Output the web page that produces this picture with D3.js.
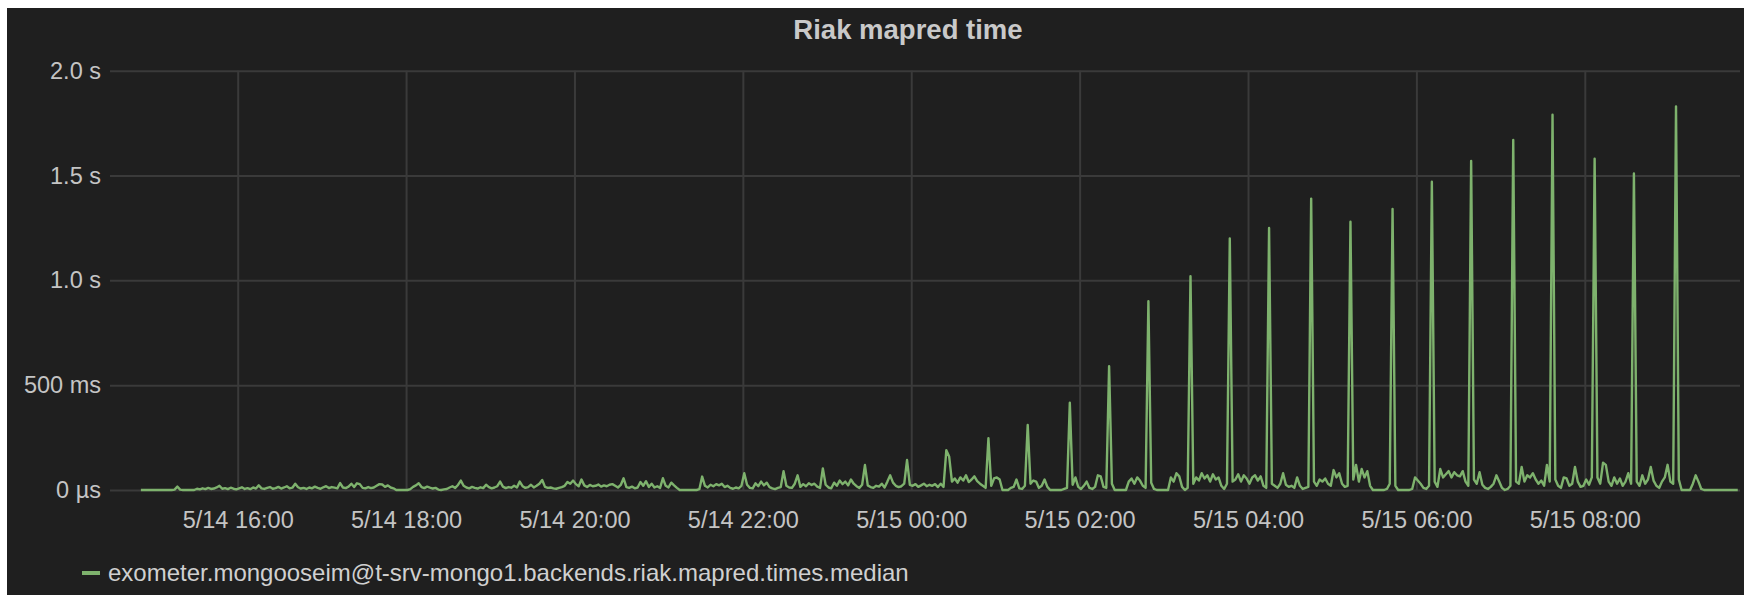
<!DOCTYPE html>
<html>
<head>
<meta charset="utf-8">
<script src="https://cdn.jsdelivr.net/npm/d3@7"></script>
<style>
  body { margin: 0; background: #fff; }
  svg { display: block; font-family: "Liberation Sans", Arial, sans-serif; }
</style>
</head>
<body>
<svg id="chart" width="1744" height="595"></svg>
<script>
// panel text
const title = "Riak mapred time";
const seriesName = "exometer.mongooseim@t-srv-mongo1.backends.riak.mapred.times.median";

// time range shown and where samples start (2 min step)
const rangeStart = new Date(2015, 4, 14, 14, 29, 0);
const rangeEnd = new Date(2015, 4, 15, 9, 50, 36);
const firstSample = new Date(2015, 4, 14, 14, 51, 0);
const stepMinutes = 2;

// y ticks (seconds) and their labels
const yTicks = [0, 0.5, 1, 1.5, 2];
const yTickLabels = ["0 µs", "500 ms", "1.0 s", "1.5 s", "2.0 s"];

// median in ms, one row = 30 min
const medianMs = [
  0,0,0,0,0,0,0,0,0,0,0,0,2,16,2,
  0,0,0,0,0,6,3,8,4,10,5,7,12,20,6,
  9,4,11,6,3,8,13,5,9,4,12,7,22,8,5,
  10,14,6,9,15,7,12,18,8,11,30,13,7,10,5,
  12,8,16,10,6,13,18,9,14,11,8,33,12,9,16,
  30,14,32,28,10,8,14,9,12,20,28,26,15,22,12,
  8,0,0,0,0,0,4,15,22,32,14,9,16,11,7,
  10,2,0,3,5,12,18,10,24,45,20,12,8,15,10,
  7,13,9,25,14,8,12,18,40,16,9,14,11,20,12,
  40,18,10,14,25,12,20,30,48,15,10,12,8,6,10,
  14,20,38,30,45,28,18,50,22,14,24,18,20,26,16,
  22,18,25,28,20,12,24,56,14,10,16,8,12,38,20,
  42,14,30,12,18,10,56,20,12,35,22,10,0,0,0,
  0,0,0,0,4,64,20,12,25,18,28,22,30,14,20,
  10,6,12,8,20,80,25,10,8,32,18,40,22,35,14,
  8,4,10,14,90,20,12,10,30,70,15,28,18,32,24,
  30,16,10,103,25,12,8,35,20,45,28,40,22,50,30,
  18,10,25,119,22,14,10,20,16,30,12,40,70,35,20,
  14,18,30,143,25,20,28,15,22,30,18,25,20,28,14,
  30,15,190,160,40,55,35,60,45,70,38,50,65,42,30,
  20,10,247,20,55,60,50,0,0,0,10,15,50,8,5,
  20,310,30,45,40,10,20,50,15,0,0,0,0,0,5,
  10,416,25,60,15,5,20,40,10,5,15,70,65,15,10,
  590,30,0,0,0,0,0,40,55,30,60,45,20,10,900,
  35,5,0,0,0,0,0,60,40,80,65,15,0,10,1020,
  30,60,45,80,55,70,40,75,50,60,20,5,30,1200,40,
  50,75,40,70,55,30,60,70,45,65,20,10,1250,30,20,
  10,30,80,25,15,20,10,60,20,5,10,15,1390,40,20,
  50,40,55,30,20,95,60,80,30,15,20,1280,50,120,40,
  100,60,90,20,0,0,0,0,0,5,30,1340,20,0,0,
  0,0,0,5,60,45,30,10,5,20,1470,40,15,100,60,
  75,90,60,85,70,65,90,40,20,1570,50,30,85,25,10,
  5,15,30,70,40,10,0,5,20,1670,40,30,110,40,70,
  60,80,50,30,45,20,120,40,1790,50,20,10,60,55,20,
  30,110,40,15,20,50,25,60,1580,60,30,130,120,40,20,
  60,30,55,20,40,80,30,1510,40,20,70,30,50,110,45,
  20,10,40,60,120,40,30,1830,50,0,0,0,0,30,70,
  40,5,0,0,0,0,0,0,0,0,0,0,0,0,0
];

const data = medianMs.map((v, i) => ({
  time: d3.timeMinute.offset(firstSample, i * stepMinutes),
  value: v / 1000
}));

const svg = d3.select("#chart");

// dark panel, white strip left and top
svg.append("rect")
  .attr("x", 7).attr("y", 8)
  .attr("width", 1744 - 7).attr("height", 595 - 8)
  .attr("fill", "#1f1f1f");

svg.append("text")
  .attr("x", 908).attr("y", 39)
  .attr("text-anchor", "middle")
  .attr("fill", "#c9c9c9")
  .attr("font-size", 27.5)
  .attr("font-weight", "bold")
  .text(title);

const plot = { left: 110, right: 1740, top: 70.7, bottom: 490 };

const x = d3.scaleTime()
  .domain([rangeStart, rangeEnd])
  .range([plot.left, plot.right]);

const y = d3.scaleLinear()
  .domain([0, 2])
  .range([plot.bottom, plot.top]);

// vertical grid + time labels
const xAxis = d3.axisBottom(x)
  .ticks(d3.timeHour.every(2))
  .tickFormat(d3.timeFormat("%-m/%-d %H:%M"))
  .tickSize(-(plot.bottom - plot.top))
  .tickPadding(24);

svg.append("g")
  .attr("transform", `translate(0,${plot.bottom})`)
  .call(xAxis)
  .call(g => g.select(".domain").remove())
  .call(g => g.selectAll(".tick line").attr("stroke", "#3a3a3a").attr("stroke-width", 2))
  .call(g => g.selectAll(".tick text")
    .attr("fill", "#c4c4c4")
    .attr("font-size", 23.5)
    .attr("dy", null)
    .attr("y", 38));

// horizontal grid + value labels
const yAxis = d3.axisLeft(y)
  .tickValues(yTicks)
  .tickFormat((d, i) => yTickLabels[i])
  .tickSize(-(plot.right - plot.left))
  .tickPadding(9);

svg.append("g")
  .attr("transform", `translate(${plot.left},0)`)
  .call(yAxis)
  .call(g => g.select(".domain").remove())
  .call(g => g.selectAll(".tick line").attr("stroke", "#3a3a3a").attr("stroke-width", 2))
  .call(g => g.selectAll(".tick text")
    .attr("fill", "#c4c4c4")
    .attr("font-size", 23.5));

// the series
const line = d3.line()
  .x(d => x(d.time))
  .y(d => y(d.value));

svg.append("path")
  .datum(data)
  .attr("fill", "none")
  .attr("stroke", "#7eb26d")
  .attr("stroke-width", 2.4)
  .attr("stroke-linejoin", "round")
  .attr("d", line);

// legend
svg.append("rect")
  .attr("x", 82).attr("y", 571)
  .attr("width", 18).attr("height", 4)
  .attr("fill", "#7eb26d");

svg.append("text")
  .attr("x", 108).attr("y", 581)
  .attr("fill", "#d0d0d0")
  .attr("font-size", 24)
  .text(seriesName);
</script>
</body>
</html>
